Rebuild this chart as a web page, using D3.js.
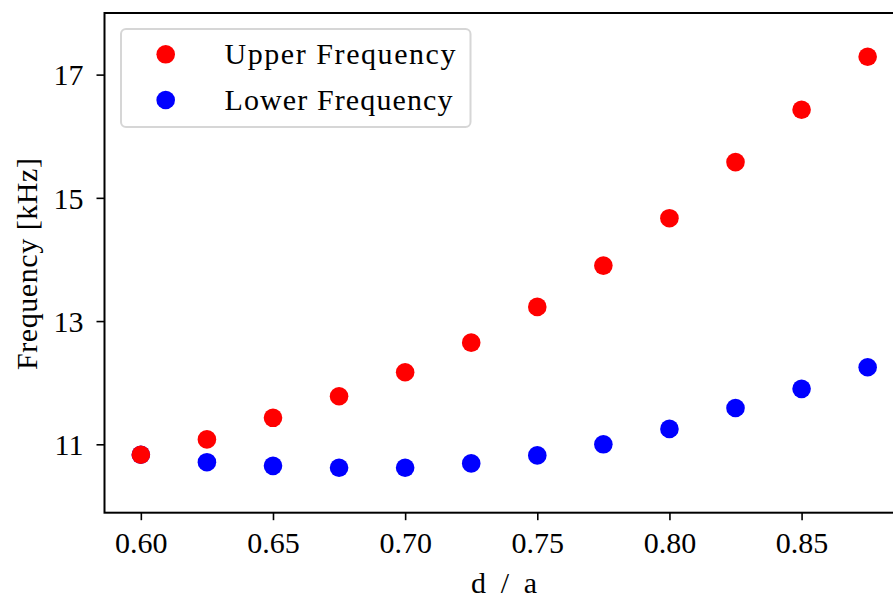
<!DOCTYPE html>
<html>
<head>
<meta charset="utf-8">
<script src="https://cdn.jsdelivr.net/npm/d3@7"></script>
<style>
  body { margin: 0; background: #fff; }
  svg text { font-family: "Liberation Serif", "Times New Roman", serif; fill: #000; }
</style>
</head>
<body>
<div id="chart"></div>
<script>

// d / a ratios
var ratios = [0.600, 0.625, 0.650, 0.675, 0.700, 0.725, 0.750, 0.775, 0.800, 0.825, 0.850, 0.875]

// frequencies in kHz
var upperFreq = [10.83, 11.08, 11.43, 11.78, 12.17, 12.65, 13.23, 13.90, 14.67, 15.58, 16.43, 17.29]
var lowerFreq = [10.83, 10.71, 10.65, 10.62, 10.62, 10.69, 10.82, 11.00, 11.25, 11.59, 11.90, 12.25]

var xTicks = [0.60, 0.65, 0.70, 0.75, 0.80, 0.85]
var yTicks = [11, 13, 15, 17]

var seriesNames = ["Upper Frequency", "Lower Frequency"]
var seriesColors = ["#ff0000", "#0000ff"]

var width = 893, height = 601
var margin = { top: 13, right: -11, bottom: 88.3, left: 104.5 }

var svg = d3.select("#chart").append("svg")
    .attr("width", width)
    .attr("height", height)

var x = d3.scaleLinear()
    .domain([0.58625, 0.88875])
    .range([margin.left, width - margin.right])

var y = d3.scaleLinear()
    .domain([9.89, 18.0])
    .range([height - margin.bottom, margin.top])

var fontSize = 30

// x axis
var xAxis = svg.append("g")
    .attr("transform", `translate(0,${height - margin.bottom})`)
    .call(d3.axisBottom(x).tickValues(xTicks).tickFormat(d3.format(".2f")).tickSize(7.5).tickSizeOuter(0))

xAxis.select(".domain").remove()
xAxis.selectAll(".tick line").attr("stroke-width", 1.6)
xAxis.selectAll(".tick text")
    .attr("dy", null)
    .attr("y", 40)
    .style("font-size", fontSize + "px")

// y axis
var yAxis = svg.append("g")
    .attr("transform", `translate(${margin.left},0)`)
    .call(d3.axisLeft(y).tickValues(yTicks).tickFormat(d3.format("d")).tickSize(8).tickSizeOuter(0))

yAxis.select(".domain").remove()
yAxis.selectAll(".tick line").attr("stroke-width", 1.6)
yAxis.selectAll(".tick text")
    .attr("x", -21)
    .attr("dy", "0.34em")
    .style("font-size", fontSize + "px")

// frame
svg.append("rect")
    .attr("x", margin.left)
    .attr("y", margin.top)
    .attr("width", x.range()[1] - margin.left)
    .attr("height", y.range()[0] - margin.top)
    .attr("fill", "none")
    .attr("stroke", "#000")
    .attr("stroke-width", 2)

// points - lower first so the red one sits on top at 0.60
var series = [upperFreq, lowerFreq]

;[1, 0].forEach(function(s) {
    svg.append("g").selectAll("circle")
        .data(series[s])
        .join("circle")
        .attr("cx", (d, i) => x(ratios[i]))
        .attr("cy", d => y(d))
        .attr("r", 9.3)
        .attr("fill", seriesColors[s])
})

// axis labels
svg.append("text")
    .attr("x", 504)
    .attr("y", 593)
    .attr("text-anchor", "middle")
    .attr("textLength", 66)
    .attr("lengthAdjust", "spacing")
    .style("font-size", fontSize + "px")
    .text("d / a")

svg.append("text")
    .attr("transform", "translate(37,264) rotate(-90)")
    .attr("text-anchor", "middle")
    .attr("textLength", 212)
    .attr("lengthAdjust", "spacing")
    .style("font-size", fontSize + "px")
    .text("Frequency [kHz]")

// legend
var legend = svg.append("g")

legend.append("rect")
    .attr("x", 121)
    .attr("y", 29)
    .attr("width", 349.5)
    .attr("height", 98)
    .attr("rx", 5)
    .attr("fill", "#fff")
    .attr("fill-opacity", 0.8)
    .attr("stroke", "#d6d6d6")
    .attr("stroke-width", 2)

var legendWidths = [231, 228]

seriesNames.forEach(function(name, i) {
    var cy = 54.3 + i * 45.7
    legend.append("circle")
        .attr("cx", 165.7)
        .attr("cy", cy)
        .attr("r", 9.3)
        .attr("fill", seriesColors[i])
    legend.append("text")
        .attr("x", 224.5)
        .attr("y", cy + 10)
        .attr("textLength", legendWidths[i])
        .attr("lengthAdjust", "spacing")
        .style("font-size", fontSize + "px")
        .text(name)
})

</script>
</body>
</html>
